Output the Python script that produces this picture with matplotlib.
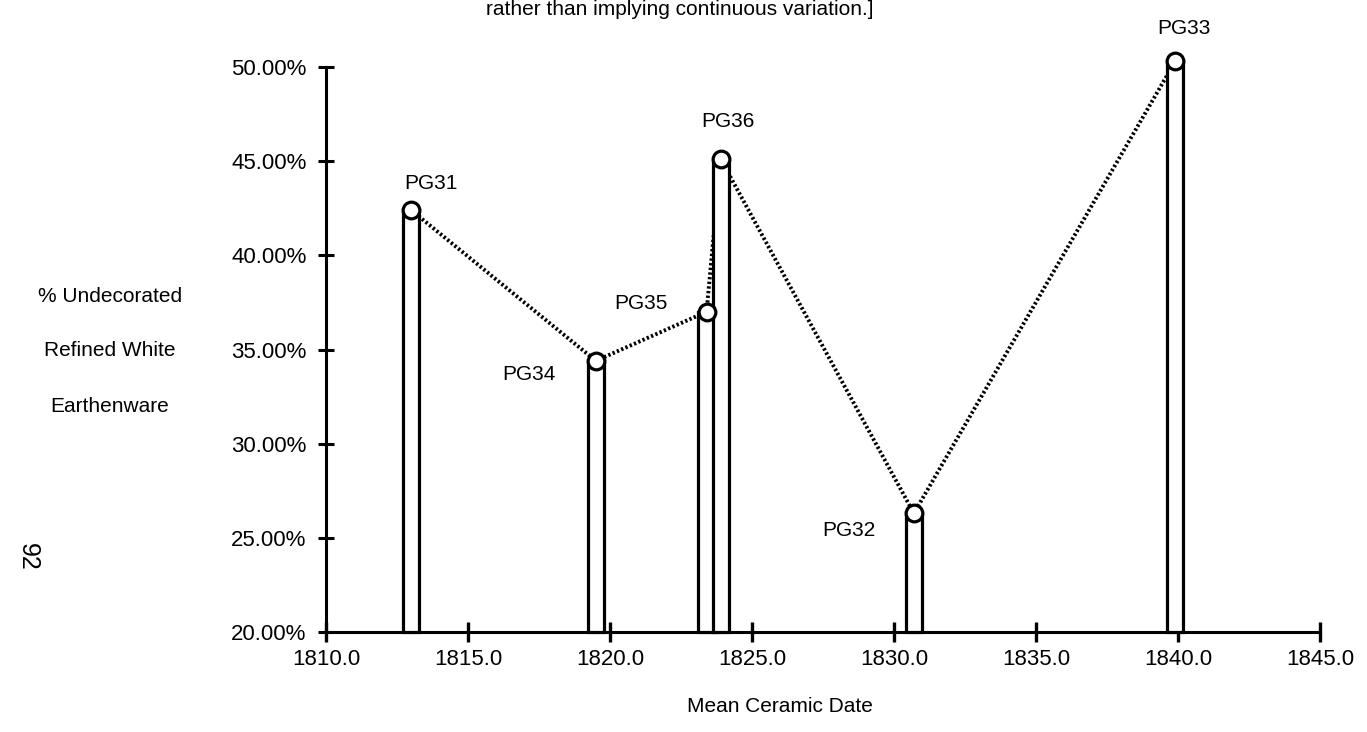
import matplotlib
matplotlib.use('Agg')
from matplotlib import pyplot as plt
from matplotlib.ticker import FuncFormatter

plt.rcParams['font.family'] = ['Liberation Sans', 'DejaVu Sans']

# data
sites = ['PG31', 'PG34', 'PG35', 'PG36', 'PG32', 'PG33']
mcd = [1813.0, 1819.5, 1823.4, 1823.9, 1830.7, 1839.9]
pct = [42.4, 34.4, 37.0, 45.1, 26.3, 50.3]

# label offsets (points) from each circle
offsets = {
    'PG31': (14, 19),
    'PG34': (-48, -10),
    'PG35': (-47, 6),
    'PG36': (5, 27),
    'PG32': (-47, -12),
    'PG33': (6, 24),
}

x_ticks = [1810, 1815, 1820, 1825, 1830, 1835, 1840, 1845]
y_ticks = [20, 25, 30, 35, 40, 45, 50]

fig = plt.figure(figsize=(13.67, 7.32), dpi=100)
ax = fig.add_axes([326 / 1367, 100 / 732, 994 / 1367, 565 / 732])
ax.set_xlim(1810, 1845)
ax.set_ylim(20, 50)

# dotted line joining the tops
ax.plot(mcd, pct, linestyle=(0, (0.6, 0.6)), color='black', lw=2.8,
        zorder=2, clip_on=False)

# narrow open bars
ax.bar(mcd, [p - 20 for p in pct], bottom=20, width=0.58, color='white',
       edgecolor='black', linewidth=2.3, zorder=3, clip_on=False)

# open circles on top
ax.plot(mcd, pct, 'o', ms=12, mfc='white', mec='black', mew=2.3,
        zorder=4, clip_on=False)

for s, x, y in zip(sites, mcd, pct):
    ax.annotate(s, (x, y), xytext=offsets[s], textcoords='offset points',
                ha='center', va='center', fontsize=15, annotation_clip=False)

for side in ['top', 'right']:
    ax.spines[side].set_visible(False)
for side in ['left', 'bottom']:
    ax.spines[side].set_linewidth(2.2)

ax.set_xticks(x_ticks)
ax.set_xticklabels([f'{t:.1f}' for t in x_ticks])
ax.set_yticks(y_ticks)
ax.yaxis.set_major_formatter(FuncFormatter(lambda v, p: f'{v:.2f}%'))
ax.tick_params(axis='x', direction='inout', length=14, width=2.4,
               labelsize=16, pad=5)
ax.tick_params(axis='y', direction='inout', length=12, width=2.2,
               labelsize=16, pad=8)

fig.text(780 / 1367, 1 - 706 / 732, 'Mean Ceramic Date', ha='center',
         va='center', fontsize=15)
fig.text(110 / 1367, 1 - 351 / 732, '% Undecorated\nRefined White\nEarthenware',
         ha='center', va='center', fontsize=15, linespacing=3.4)
fig.text(28 / 1367, 1 - 557 / 732, '92', rotation=-90, ha='center',
         va='center', fontsize=18)
fig.text(680 / 1367, 1 - 15 / 732, 'rather than implying continuous variation.]',
         ha='center', va='baseline', fontsize=15)

fig.savefig('out.png', dpi=100)
